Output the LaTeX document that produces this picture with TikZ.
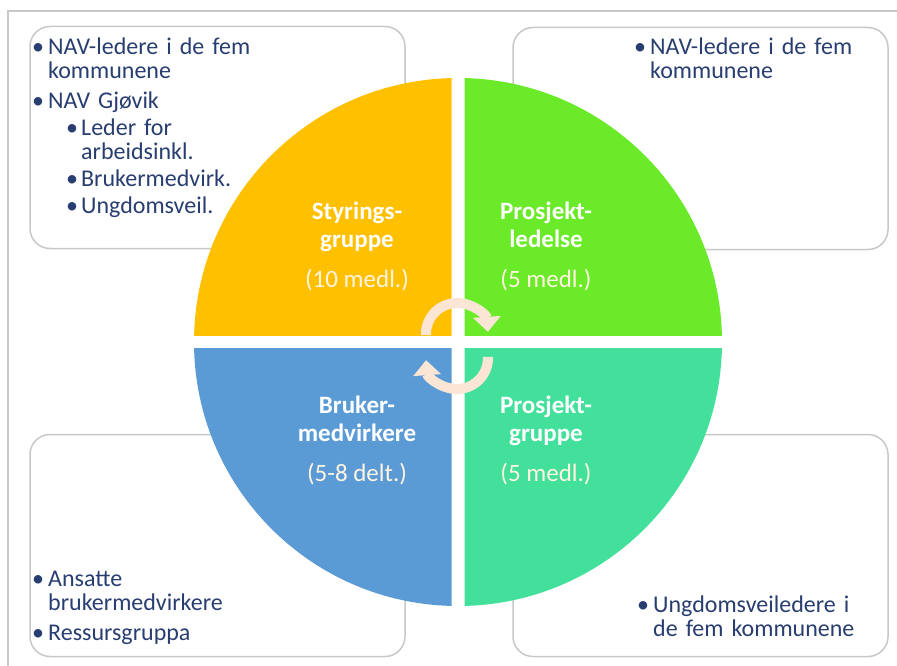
\documentclass[tikz,border=0pt]{standalone}
\usepackage{fontspec}
\setmainfont{Carlito}
\usetikzlibrary{arrows.meta,positioning}

\definecolor{navtekst}{RGB}{40,62,112}
\definecolor{kantgraa}{RGB}{200,200,200}
\definecolor{gul}{RGB}{255,192,0}
\definecolor{ledgronn}{RGB}{106,234,40}
\definecolor{blaa}{RGB}{91,155,213}
\definecolor{turkis}{RGB}{67,224,155}
\definecolor{pilfarge}{RGB}{251,229,212}
\definecolor{bleik}{RGB}{255,244,226}

\newcommand{\punkt}[1]{\par\setlength{\parskip}{6pt}\hangindent=16pt\hangafter=1\noindent\makebox[16pt][l]{\textbullet}#1\par}
\newcommand{\underpunkt}[1]{\par\setlength{\parskip}{3pt}\hangindent=49pt\hangafter=1\noindent\hspace*{34pt}\makebox[15pt][l]{\textbullet}#1\par}

\tikzset{
    boks/.style = {draw=kantgraa, line width=1.5pt, fill=white, rounded corners=20pt,
                   minimum width=375pt, minimum height=222pt, inner sep=0pt},
    liste/.style = {text=navtekst, font=\fontsize{24}{24}\selectfont, text width=340pt,
                    align=left, inner sep=0pt, anchor=north west},
    kvart/.style = {text=white, font=\fontsize{25}{28}\selectfont\bfseries, align=center},
    pilbue/.style = {draw=pilfarge, line width=10pt, -{Triangle[width=27pt,length=15pt]}}
}

\begin{document}
\begin{tikzpicture}[x=1pt,y=-1pt]
    \useasboundingbox (0,0) rectangle (897,666);
    \draw[kantgraa, line width=1.5pt] (8,666) -- (8,11) -- (897,11);

    \node[boks] (sgboks) at (217.5,137.5) {};
    \node[boks] (plboks) at (700.5,138.5) {};
    \node[boks] (bmboks) at (217.5,545.5) {};
    \node[boks] (pgboks) at (700.5,545.5) {};

    \coordinate (sentrum) at (458,342);
    \begin{scope}
        \clip (150,40) rectangle (451.5,335.5);
        \fill[gul] (sentrum) circle (264);
    \end{scope}
    \begin{scope}
        \clip (464.5,40) rectangle (760,335.5);
        \fill[ledgronn] (sentrum) circle (264);
    \end{scope}
    \begin{scope}
        \clip (150,348.5) rectangle (451.5,640);
        \fill[blaa] (sentrum) circle (264);
    \end{scope}
    \begin{scope}
        \clip (464.5,348.5) rectangle (760,640);
        \fill[turkis] (sentrum) circle (264);
    \end{scope}

    \coordinate (oppe) at (457,334);
    \coordinate (nede) at (457,358);
    \draw[pilbue] ([shift={(-182:31)}]oppe) arc (-182:-4:31);
    \draw[pilbue] ([shift={(-2:31)}]nede) arc (-2:176:31);

    \node[kvart] (sgnavn) at (357,246) {Styrings-\\gruppe\\[12pt]\mdseries\textcolor{bleik}{(10 medl.)}};
    \node[kvart] (plnavn) at (546,246) {Prosjekt-\\ledelse\\[12pt]\mdseries\textcolor{bleik}{(5 medl.)}};
    \node[kvart] (bmnavn) at (357,440) {Bruker-\\medvirkere\\[12pt]\mdseries\textcolor{bleik}{(5-8 delt.)}};
    \node[kvart] (pgnavn) at (546,440) {Prosjekt-\\gruppe\\[12pt]\mdseries\textcolor{bleik}{(5 medl.)}};

    \node[liste] (sgliste) at (32,24) {%
        \punkt{NAV-ledere i de fem\newline kommunene}
        \punkt{NAV Gjøvik}
        \underpunkt{Leder for\newline arbeidsinkl.}
        \underpunkt{Brukermedvirk.}
        \underpunkt{Ungdomsveil.}};
    \node[liste] (plliste) at (634,24) {%
        \punkt{NAV-ledere i de fem\newline kommunene}};
    \node[liste] (bmliste) at (32,556) {%
        \punkt{Ansatte\newline brukermedvirkere}
        \punkt{Ressursgruppa}};
    \node[liste] (pgliste) at (637,582) {%
        \punkt{Ungdomsveiledere i\newline de fem kommunene}};
\end{tikzpicture}
\end{document}
